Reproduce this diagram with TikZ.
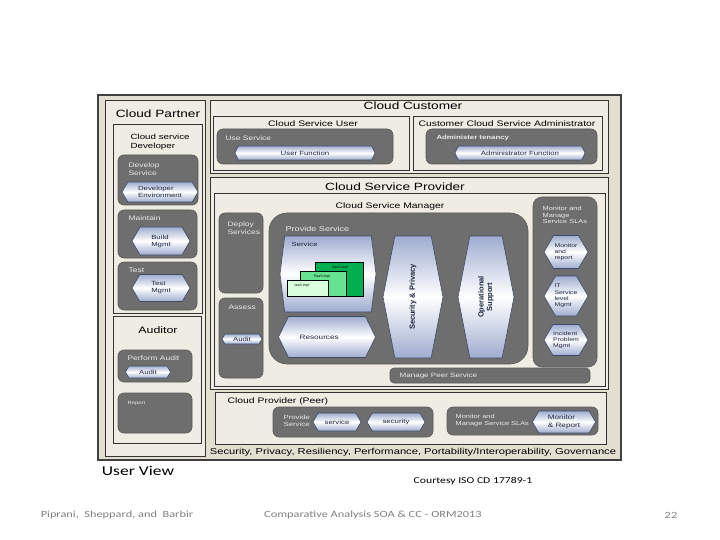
\documentclass[tikz,border=0pt]{standalone}
\usepackage{fontspec}
\setmainfont{Liberation Sans}
\newfontfamily\slidefont{Carlito}
\usepackage{xcolor}
\usetikzlibrary{shapes.symbols,positioning}
\definecolor{frameFill}{HTML}{E2DFD1}
\definecolor{paneBg}{HTML}{EEECE3}
\definecolor{panelGray}{HTML}{6E6E6E}
\definecolor{hexDark}{HTML}{9FACCF}
\definecolor{hexEdge}{HTML}{3E4A66}
\definecolor{hexText}{HTML}{1E2740}
\definecolor{saasGreen}{HTML}{00B050}
\definecolor{paasGreen}{HTML}{66E391}
\definecolor{iaasGreen}{HTML}{D9FFDC}
\definecolor{footGray}{HTML}{7F7F7F}

\begin{document}
\begin{tikzpicture}[x=1pt,y=-1pt,
        wide/.style={
            xscale=1.3
        },
        pane/.style={
            draw=black!80,
            line width=0.8pt,
            fill=paneBg
        },
        panel/.style={
            draw=black!65,
            line width=0.6pt,
            fill=panelGray,
            rounded corners=6pt
        },
        hexa/.style={
            shape=signal,
            signal to=west and east,
            signal pointer angle=120,
            draw=hexEdge,
            line width=0.6pt,
            top color=hexDark,
            bottom color=hexDark,
            middle color=white,
            inner sep=0pt,
            align=left,
            text=hexText,
            font=\fontsize{6}{7}\selectfont
        },
        tall/.style={
            hexa,
            signal pointer angle=158
        },
        title/.style={
            wide,
            font=\fontsize{10.5}{12}\selectfont
        },
        subtitle/.style={
            wide,
            font=\fontsize{8}{9}\selectfont,
            align=left
        },
        wlabel/.style={
            wide,
            font=\fontsize{6.5}{7.5}\selectfont,
            text=white!92!black,
            align=left,
            anchor=west
        },
        hexlabel/.style={
            wide,
            font=\fontsize{6}{7}\selectfont,
            text=hexText,
            align=left
        },
        vlabel/.style={
            rotate=90,
            font=\fontsize{7.5}{8.5}\selectfont\bfseries,
            text=hexText,
            align=center
        },
        impl/.style={
            draw=black,
            line width=0.5pt
        },
        impltext/.style={
            font=\fontsize{3.5}{4}\selectfont,
            anchor=north
        },
        slide/.style={
            wide,
            font=\slidefont\fontsize{9.5}{11}\selectfont,
            text=footGray
        }
    ]

    \useasboundingbox (0,0) rectangle (720,540);

    \draw[line width=1.6pt, draw=black!75, fill=frameFill] (98,95) rectangle (621,460);

    % cloud partner
    \draw[pane] (105,100) rectangle (205,456);
    \node[title] (partner) at (158,114) {Cloud Partner};
    \draw[pane] (113,124) rectangle (202,313);
    \node[subtitle, font=\fontsize{7.5}{8.5}\selectfont, anchor=west] (developer) at (126,142) {Cloud service\\Developer};

    \draw[panel] (118,155) rectangle (198,205);
    \node[wlabel] (devsvc) at (124,169) {Develop\\Service};
    \node[hexa, minimum width=76, minimum height=20] (devenv) at (160,192) {};
    \node[hexlabel] at (devenv) {Developer\\Environment};

    \draw[panel] (118,210) rectangle (197,258);
    \node[wlabel] (maintain) at (124,218) {Maintain};
    \node[hexa, minimum width=58, minimum height=28] (build) at (161,241) {};
    \node[hexlabel] at (build) {Build\\Mgmt};

    \draw[panel] (118,262) rectangle (197,310);
    \node[wlabel] (test) at (124,270) {Test};
    \node[hexa, minimum width=58, minimum height=27] (testmgmt) at (161,288) {};
    \node[hexlabel] at (testmgmt) {Test\\Mgmt};

    \draw[pane] (113,316) rectangle (201,443);
    \node[wide, font=\fontsize{9.5}{10}\selectfont] (auditor) at (158,330) {Auditor};
    \draw[panel] (118,350) rectangle (192,382);
    \node[wlabel] (perform) at (123,358) {Perform Audit};
    \node[hexa, minimum width=45, minimum height=12] (audit) at (148,372) {};
    \node[hexlabel] at (audit) {Audit};
    \draw[panel] (118,393) rectangle (192,433);
    \node[wlabel, font=\fontsize{4.5}{5}\selectfont] (report) at (123,403) {Report};

    % cloud customer
    \draw[pane] (210,100) rectangle (608,173);
    \node[title] (customer) at (413,106) {Cloud Customer};
    \draw[pane] (213,116) rectangle (409,170);
    \node[subtitle] (user) at (313,124) {Cloud Service User};
    \draw[panel] (217,129) rectangle (393,164);
    \node[wlabel] (usesvc) at (221,138) {Use Service};
    \node[hexa, minimum width=140, minimum height=14, signal pointer angle=130] (userfn) at (305,153) {};
    \node[hexlabel] at (userfn) {User Function};

    \draw[pane] (413,116) rectangle (602,170);
    \node[subtitle] (admin) at (507,124) {Customer Cloud Service Administrator};
    \draw[panel] (426,129) rectangle (597,164);
    \node[wlabel, font=\fontsize{6}{7}\selectfont\bfseries] (tenancy) at (432,138) {Administer tenancy};
    \node[hexa, minimum width=130, minimum height=14, signal pointer angle=130] (adminfn) at (520,153) {};
    \node[hexlabel] at (adminfn) {Administrator Function};

    % cloud service provider
    \draw[pane] (210,177) rectangle (608,389);
    \node[title] (provider) at (395,187) {Cloud Service Provider};
    \draw[pane, line width=0.6pt] (214,193) rectangle (605,386);
    \node[subtitle] (manager) at (390,206) {Cloud Service Manager};

    \draw[panel] (219,213) rectangle (263,293);
    \node[wlabel] (deploy) at (223,228) {Deploy\\Services};
    \draw[panel] (219,298) rectangle (263,378);
    \node[wlabel] (assess) at (224,307) {Assess};
    \node[hexa, minimum width=40, minimum height=10] (assessaudit) at (242,339) {};
    \node[hexlabel] at (assessaudit) {Audit};

    \draw[panel, rounded corners=18pt] (269,213) rectangle (528,364);
    \node[wlabel, font=\fontsize{7}{8}\selectfont] (provide) at (281,229) {Provide Service};

    \node[tall, signal pointer angle=166, minimum width=96, minimum height=76] (service) at (328,274) {};
    \node[hexlabel, anchor=west] (servicelbl) at (287,244) {Service};
    \draw[impl, fill=saasGreen] (315,262) rectangle (363,296);
    \node[impltext] (saas) at (340,262.5) {SaaS impl};
    \draw[impl, fill=paasGreen] (300,271) rectangle (346,296);
    \node[impltext] (paas) at (322,271.5) {PaaS impl};
    \draw[impl, fill=iaasGreen] (287,280) rectangle (328,296);
    \node[impltext] (iaas) at (302,280.5) {IaaS impl};

    \node[hexa, signal pointer angle=128, minimum width=97, minimum height=41] (resources) at (327,337) {};
    \node[hexlabel, anchor=west, font=\fontsize{6.3}{7}\selectfont] (reslbl) at (295,337) {Resources};

    \node[tall, minimum width=60, minimum height=122] (security) at (413,297) {};
    \node[vlabel] (seclbl) at (security) {Security \& Privacy};
    \node[tall, minimum width=56, minimum height=122] (ops) at (486,297) {};
    \node[vlabel] (opslbl) at (ops) {Operational\\Support};

    \draw[panel, rounded corners=9pt] (533,197) rectangle (597,367);
    \node[wlabel, font=\fontsize{5.7}{6.7}\selectfont] (sla) at (538,215) {Monitor and\\Manage\\Service SLAs};
    \node[hexa, minimum width=44, minimum height=33] (monitor) at (566,252) {};
    \node[hexlabel, font=\fontsize{5.3}{6.3}\selectfont] at (monitor) {Monitor\\and\\report};
    \node[hexa, minimum width=44, minimum height=40] (itsvc) at (566,296) {};
    \node[hexlabel, font=\fontsize{5.3}{6.3}\selectfont] at (itsvc) {IT\\Service\\level\\Mgmt};
    \node[hexa, minimum width=44, minimum height=31] (incident) at (566,340) {};
    \node[hexlabel, font=\fontsize{5.3}{6.3}\selectfont] at (incident) {Incident\\Problem\\Mgmt};

    \draw[panel, rounded corners=4pt] (390,368) rectangle (590,383);
    \node[wlabel, font=\fontsize{6.2}{7}\selectfont] (peermgr) at (395,376) {Manage Peer Service};

    % peer
    \draw[pane] (215,392) rectangle (606,444);
    \node[subtitle, anchor=west] (peer) at (223,401) {Cloud Provider (Peer)};
    \draw[panel] (273,407) rectangle (433,437);
    \node[wlabel, font=\fontsize{6}{7}\selectfont] (peerprov) at (279,421) {Provide\\Service};
    \node[hexa, minimum width=48, minimum height=18] (peersvc) at (337,422) {};
    \node[hexlabel] at (peersvc) {service};
    \node[hexa, minimum width=58, minimum height=18] (peersec) at (396,422) {};
    \node[hexlabel] at (peersec) {security};
    \draw[panel] (447,407) rectangle (598,435);
    \node[wlabel, font=\fontsize{5.7}{7}\selectfont] (peersla) at (451,421) {Monitor and\\Manage Service SLAs};
    \node[hexa, minimum width=63, minimum height=22] (peermon) at (564,422) {};
    \node[hexlabel, font=\fontsize{6.3}{7.3}\selectfont] at (peermon) {Monitor\\\& Report};

    \node[wide, font=\fontsize{8.6}{9.5}\selectfont] (concerns) at (413,452) {Security, Privacy, Resiliency, Performance, Portability/Interoperability, Governance};

    \node[wide, font=\slidefont\fontsize{13.5}{15}\selectfont] (userview) at (138,471) {User View};
    \node[wide, font=\slidefont\fontsize{9}{10}\selectfont] (courtesy) at (473,481) {Courtesy ISO CD 17789-1};
    \node[slide] (authors) at (117,515) {Piprani,\ \ Sheppard, and\ \ Barbir};
    \node[slide] (talk) at (373,515) {Comparative Analysis SOA \& CC - ORM2013};
    \node[slide] (page) at (671,515) {22};

\end{tikzpicture}
\end{document}
